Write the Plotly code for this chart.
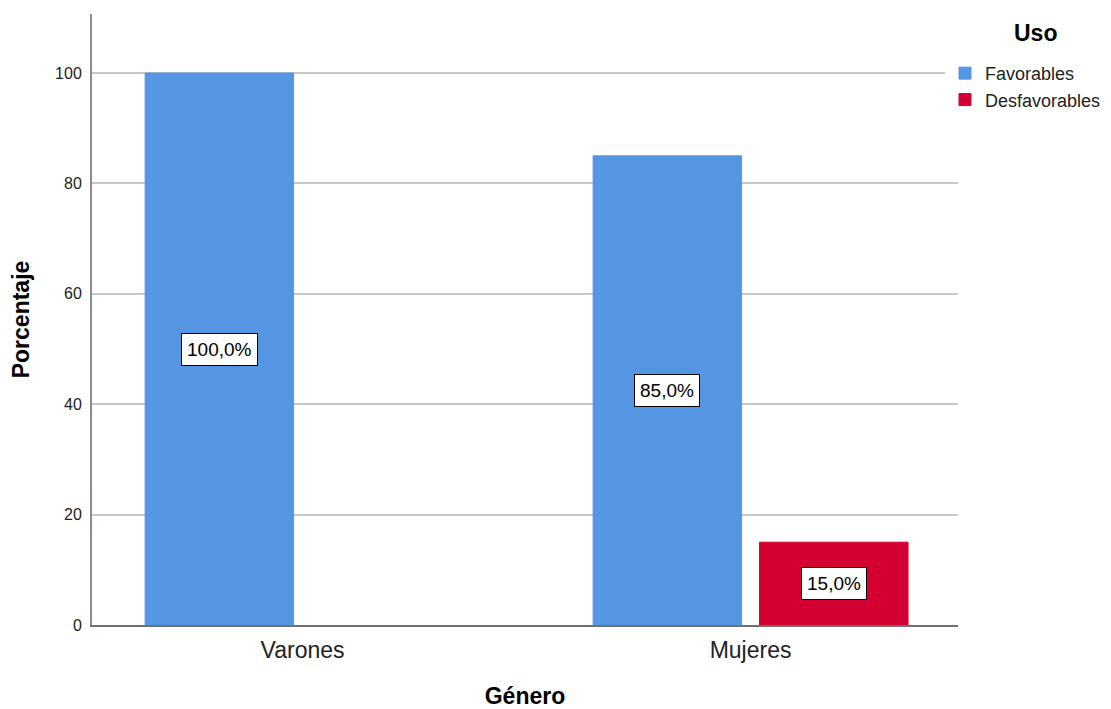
import plotly.graph_objects as go

categories = ["Varones", "Mujeres"]
series_names = ["Favorables", "Desfavorables"]
favorables = [100.0, 85.0]
desfavorables = [None, 15.0]
label_texts_fav = ["100,0%", "85,0%"]
label_texts_des = [None, "15,0%"]
y_ticks = [0, 20, 40, 60, 80, 100]
legend_title = "Uso"

colors = ["#5596E3", "#D50032"]
FONT = "Liberation Sans, Arial, sans-serif"

bargap = 0.257
bargroupgap = 0.108

fig = go.Figure()
for name, vals, col in zip(series_names, [favorables, desfavorables], colors):
    fig.add_trace(go.Bar(
        x=categories, y=vals, name=name,
        marker=dict(color=col, line=dict(color=col, width=1)),
        hoverinfo="skip",
    ))

slot = (1 - bargap) / 2
offsets = [-slot / 2, slot / 2]
annotations = []
for si, (vals, texts) in enumerate([(favorables, label_texts_fav), (desfavorables, label_texts_des)]):
    for ci, (v, t) in enumerate(zip(vals, texts)):
        if t is None or v is None:
            continue
        annotations.append(dict(
            x=ci + offsets[si], y=v / 2, xref="x", yref="y", text=t,
            showarrow=False, font=dict(family=FONT, size=19, color="black"),
            bgcolor="white", bordercolor="black", borderwidth=1, borderpad=5,
        ))

annotations.append(dict(
    x=1.089, y=0.969, xref="paper", yref="paper", text="<b>%s</b>" % legend_title,
    showarrow=False, xanchor="center", yanchor="middle",
    font=dict(size=23, family=FONT, color="black"),
))

fig.update_layout(
    width=1103, height=701,
    margin=dict(l=84, r=153, t=6, b=84, autoexpand=False),
    paper_bgcolor="white", plot_bgcolor="white",
    barmode="group", bargap=bargap, bargroupgap=bargroupgap,
    font=dict(family=FONT, color="#222"),
    annotations=annotations,
    legend=dict(
        x=0.985, xanchor="left", y=0.933, yanchor="top",
        font=dict(size=18, family=FONT, color="#222"),
        itemwidth=30, tracegroupgap=0, traceorder="normal",
    ),
    showlegend=True,
)
fig.update_xaxes(
    range=[-0.47, 1.463], showgrid=False, automargin=False,
    showline=True, linecolor="#707070", linewidth=1.5,
    ticks="", tickfont=dict(size=23, family=FONT, color="#222"),
    ticklabelstandoff=4,
    title=dict(text="<b>Género</b>", font=dict(size=23, family=FONT, color="black"), standoff=30),
)
fig.update_yaxes(
    range=[0, 110.7], tickvals=y_ticks, automargin=False,
    showgrid=True, gridcolor="#C8C8C8", gridwidth=1.5,
    showline=True, linecolor="#8C8C8C", linewidth=2,
    ticks="", tickfont=dict(size=16, family=FONT, color="#222"),
    ticklabelstandoff=5,
    zeroline=False,
    title=dict(text="<b>Porcentaje</b>", font=dict(size=23, family=FONT, color="black"), standoff=20),
)

fig.write_html("out.html")
